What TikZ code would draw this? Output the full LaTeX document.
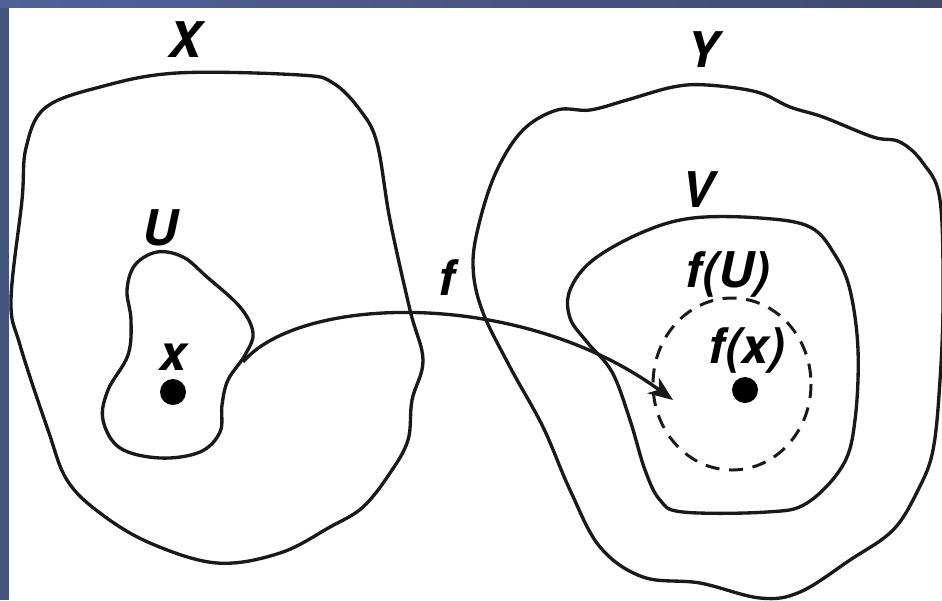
\documentclass[tikz,border=0pt]{standalone}
\usepackage{fontspec}
\setsansfont{TeX Gyre Heros}
\usetikzlibrary{arrows.meta}
\definecolor{slideblue}{HTML}{44547F}
\definecolor{slidebluel}{HTML}{50629A}
\definecolor{slidebluer}{HTML}{3E4A6E}
\tikzset{
  setline/.style={draw=black!90, line width=1.9pt},
  imageline/.style={draw=black!90, line width=1.7pt, dash pattern=on 8pt off 5.5pt},
  setlabel/.style={font=\sffamily\bfseries\itshape\fontsize{28}{30}\selectfont, inner sep=0pt},
  pointdot/.style={circle, fill=black, minimum size=0.52cm, inner sep=0pt},
  maparrow/.style={-{Stealth[length=14pt, width=11pt, inset=4pt]}, line width=1.9pt, draw=black!90}
}
\begin{document}
\begin{tikzpicture}[x=0.02cm, y=-0.02cm]
  \useasboundingbox (0,0) rectangle (942,600);
  \fill[white] (0,0) rectangle (942,600);
  \fill[slideblue] (0,0) rectangle (9,600);
  \shade[left color=slidebluel, right color=slidebluer] (0,0) rectangle (942,7);

  % domain X
  \draw[setline] plot[smooth cycle, tension=0.6] coordinates {
    (45,108) (100,87) (177,73) (300,75) (333,83) (360,110) (377,143)
    (390,220) (410,310) (423,360) (412,400) (408,440) (390,473)
    (363,507) (330,527) (280,553) (217,563) (150,543) (100,513)
    (67,480) (48,430) (20,345) (11,300) (22,200) (26,148)};
  % neighbourhood U
  \draw[setline] plot[smooth cycle, tension=0.6] coordinates {
    (157,252) (183,257) (207,277) (240,307) (253,333) (245,355)
    (228,380) (222,405) (220,432) (200,452) (160,458) (120,448)
    (103,420) (108,390) (128,355) (131,320) (127,290) (135,265)};
  % codomain Y
  \draw[setline] plot[smooth cycle, tension=0.6] coordinates {
    (480,220) (497,170) (523,130) (557,110) (590,110) (627,100)
    (673,87) (707,85) (757,92) (790,107) (823,117) (873,137)
    (900,142) (923,163) (940,200) (943,300) (940,380) (933,450)
    (918,490) (893,530) (850,560) (800,592) (760,598) (700,583)
    (643,577) (600,547) (570,490) (543,427) (510,367) (482,310)
    (473,265)};
  % neighbourhood V
  \draw[setline] plot[smooth cycle, tension=0.6] coordinates {
    (693,218) (760,218) (810,227) (835,255) (850,290) (858,350)
    (855,420) (843,465) (807,503) (767,512) (683,512) (660,500)
    (645,470) (630,420) (612,372) (587,342) (570,318) (570,290)
    (593,260) (643,232)};
  % image f(U)
  \draw[imageline] (732,384) ellipse [x radius=79, y radius=86];

  \node[pointdot] (ptx) at (173,392) {};
  \node[pointdot] (ptfx) at (745,390) {};

  \node[setlabel] (labX) at (185,40) {X};
  \node[setlabel] (labY) at (703,50) {Y};
  \node[setlabel] (labU) at (160,228) {U};
  \node[setlabel] (labx) at (173,357) {x};
  \node[setlabel] (labV) at (698,190) {V};
  \node[setlabel] (labf) at (447,278) {f};
  \node[setlabel] (labfU) at (728,274) {f(U)};
  \node[setlabel] (labfx) at (747,350) {f(x)};

  \coordinate (fstart) at (243,362);
  \coordinate (fend) at (673,400);
  \draw[maparrow] (fstart) .. controls (300,295) and (520,288) .. (fend);
\end{tikzpicture}
\end{document}
